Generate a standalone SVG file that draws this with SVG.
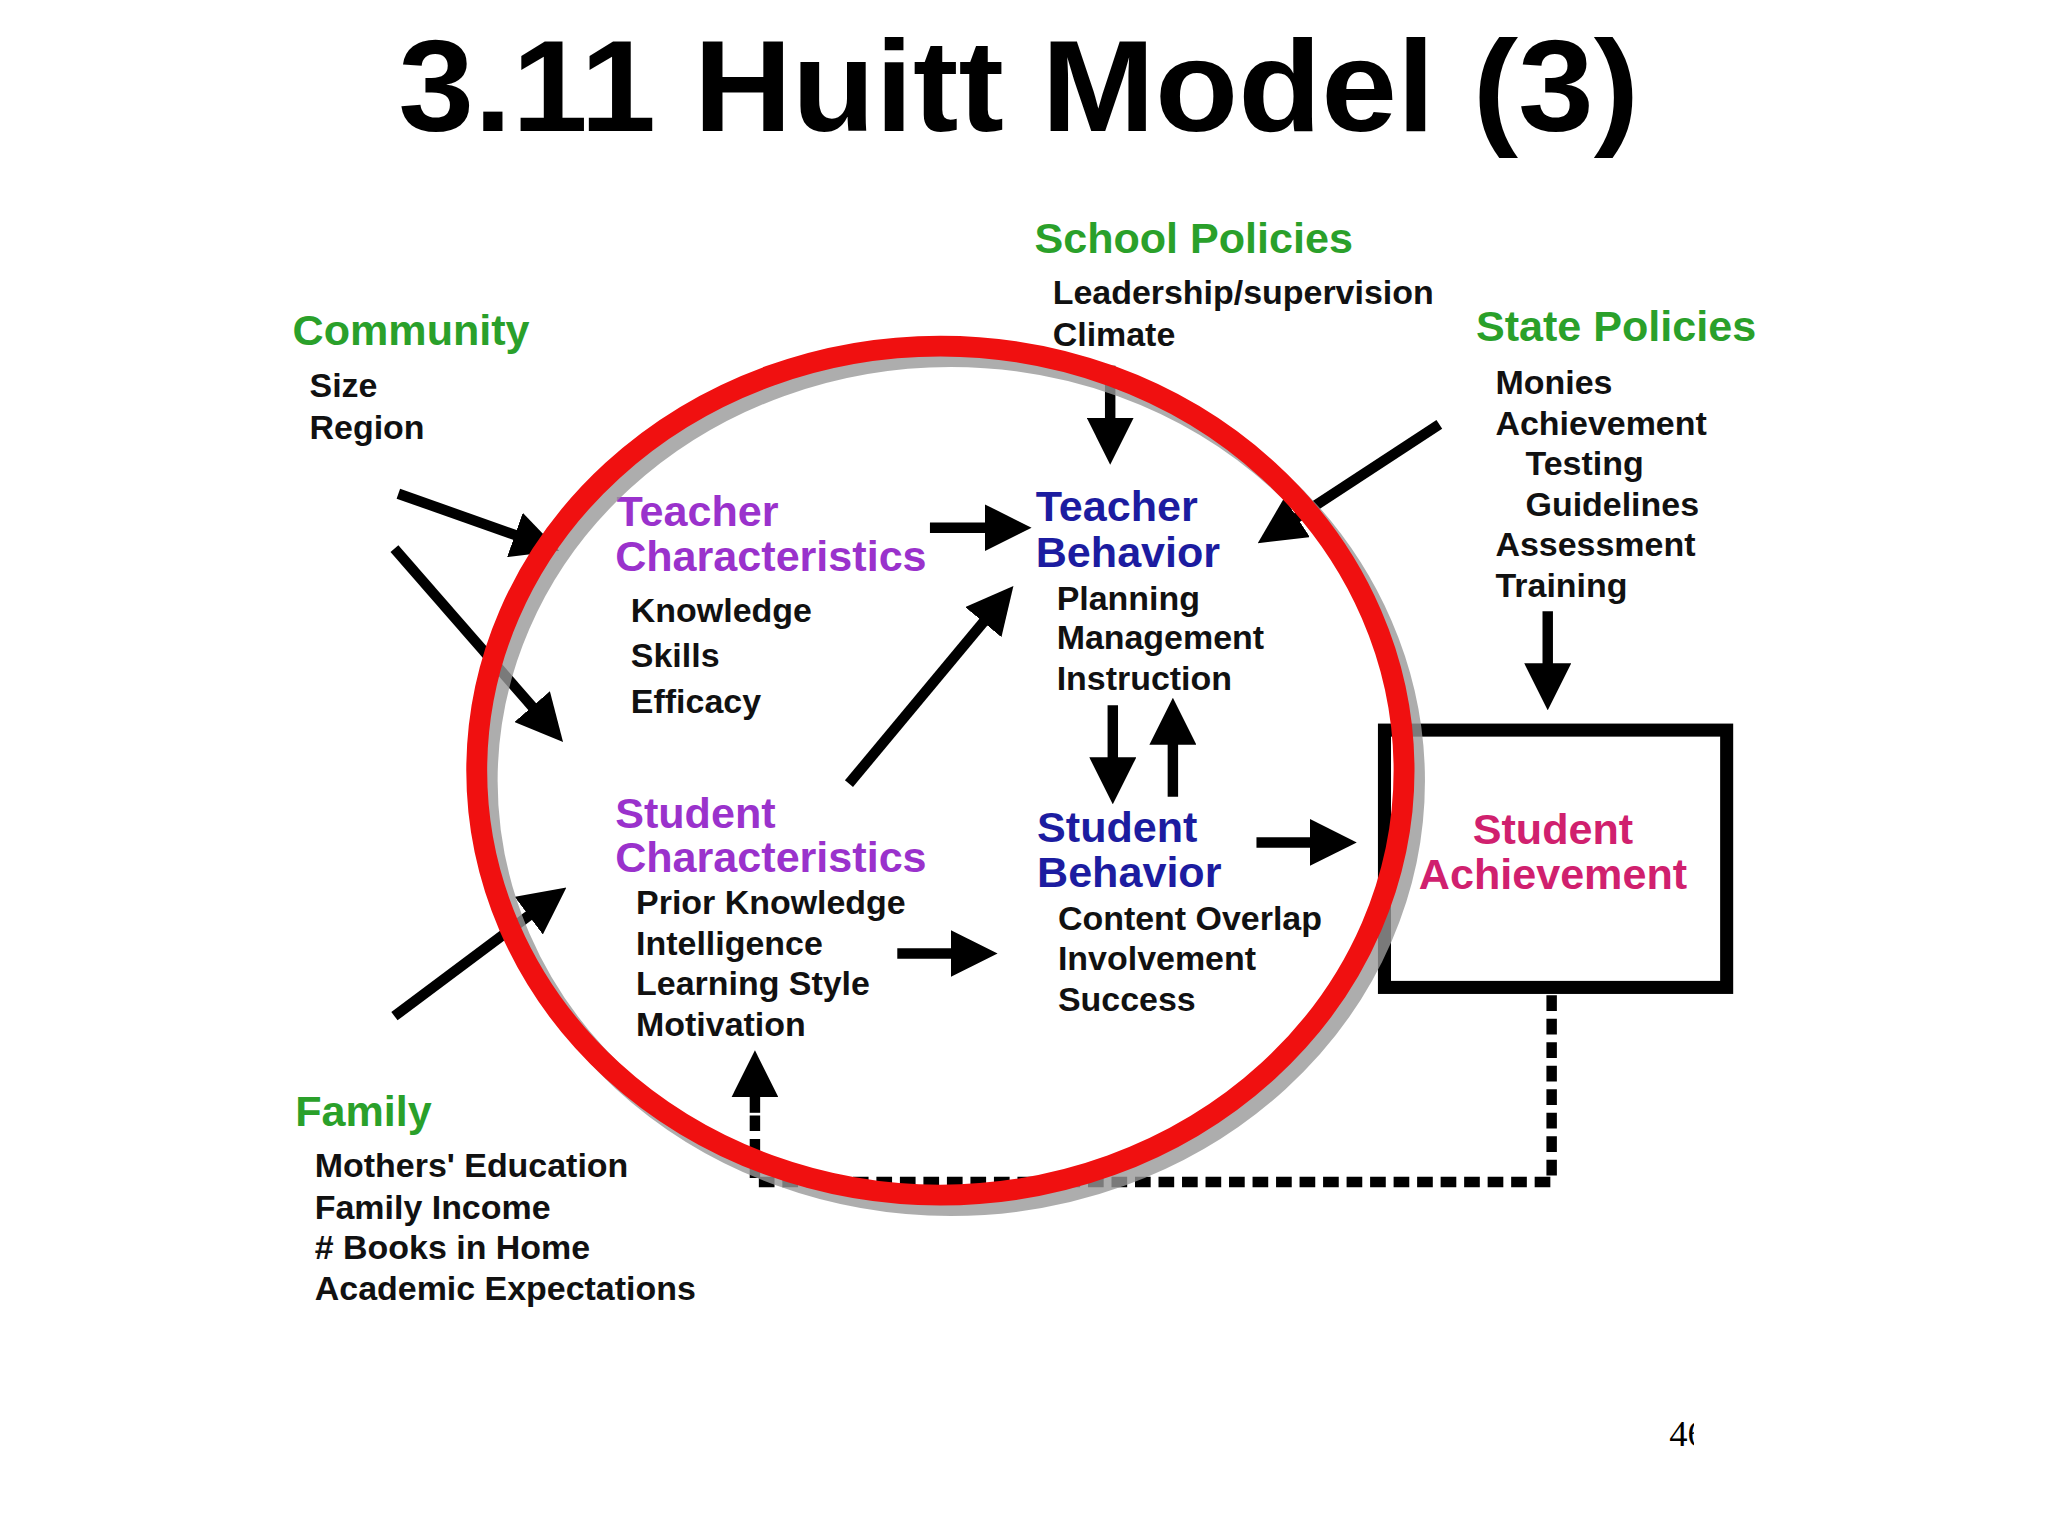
<svg xmlns="http://www.w3.org/2000/svg" width="2048" height="1536" viewBox="0 0 2048 1536">
<style>
text{font-family:"Liberation Sans","DejaVu Sans",sans-serif}
.t{font-size:26px;font-weight:bold;fill:#111}
.g{font-size:33px;font-weight:bold;fill:#2aa02a}
.p{font-size:33px;font-weight:bold;fill:#9a32cc}
.b{font-size:33px;font-weight:bold;fill:#1c1ca0}
.m{font-size:33px;font-weight:bold;fill:#d0206e}
.a{stroke:#000;stroke-width:8;fill:none;marker-end:url(#ah)}
</style>
<defs>
<marker id="ah" viewBox="0 0 10 10" refX="7" refY="5" markerWidth="4.5" markerHeight="4.5" orient="auto"><path d="M0,0L10,5L0,10z" fill="#000"/></marker>
<clipPath id="pc"><rect x="0" y="0" width="1297" height="1200"/></clipPath>
</defs>
<rect width="2048" height="1536" fill="#fff"/>
<g transform="scale(1.3061)">
<text x="305" y="100" textLength="950" lengthAdjust="spacingAndGlyphs" style="font-size:100px;font-weight:bold;fill:#000">3.11 Huitt Model (3)</text>
<g id="school"><text class="g" x="792" y="194">School Policies</text><text class="t" x="806" y="233">Leadership/supervision</text><text class="t" x="806" y="265">Climate</text></g>
<g id="community"><text class="g" x="224" y="264">Community</text><text class="t" x="237" y="304">Size</text><text class="t" x="237" y="336">Region</text></g>
<g id="state"><text class="g" x="1130" y="261">State Policies</text><text class="t" x="1145" y="302">Monies</text><text class="t" x="1145" y="333">Achievement</text><text class="t" x="1168" y="364">Testing</text><text class="t" x="1168" y="395">Guidelines</text><text class="t" x="1145" y="426">Assessment</text><text class="t" x="1145" y="457">Training</text></g>
<g id="family"><text class="g" x="226" y="862">Family</text><text class="t" x="241" y="901">Mothers' Education</text><text class="t" x="241" y="933">Family Income</text><text class="t" x="241" y="964"># Books in Home</text><text class="t" x="241" y="995">Academic Expectations</text></g>
<g id="tchar"><text class="p" x="472" y="403">Teacher</text><text class="p" x="471" y="437">Characteristics</text><text class="t" x="483" y="476">Knowledge</text><text class="t" x="483" y="511">Skills</text><text class="t" x="483" y="546">Efficacy</text></g>
<g id="tbeh"><text class="b" x="793" y="399">Teacher</text><text class="b" x="793" y="434">Behavior</text><text class="t" x="809" y="467">Planning</text><text class="t" x="809" y="497">Management</text><text class="t" x="809" y="528">Instruction</text></g>
<g id="schar"><text class="p" x="471" y="634">Student</text><text class="p" x="471" y="668">Characteristics</text><text class="t" x="487" y="700">Prior Knowledge</text><text class="t" x="487" y="731">Intelligence</text><text class="t" x="487" y="762">Learning Style</text><text class="t" x="487" y="793">Motivation</text></g>
<g id="sbeh"><text class="b" x="794" y="645">Student</text><text class="b" x="794" y="679">Behavior</text><text class="t" x="810" y="712">Content Overlap</text><text class="t" x="810" y="743">Involvement</text><text class="t" x="810" y="774">Success</text></g>
<g id="achieve"><rect x="1060" y="559" width="262" height="197" fill="#fff" stroke="#000" stroke-width="10"/><text class="m" x="1189" y="646" text-anchor="middle">Student</text><text class="m" x="1189" y="681" text-anchor="middle">Achievement</text></g>
<g id="connectors">
<line class="a" x1="850" y1="280" x2="850" y2="345"/>
<line class="a" x1="1102" y1="325" x2="972" y2="410"/>
<line class="a" x1="305" y1="378" x2="418" y2="418"/>
<line class="a" x1="302" y1="420" x2="424" y2="560"/>
<line class="a" x1="302" y1="778" x2="425" y2="686"/>
<line class="a" x1="650" y1="600" x2="769" y2="457"/>
<line class="a" x1="712" y1="404" x2="779" y2="404"/>
<line class="a" x1="852" y1="540" x2="852" y2="605"/>
<line class="a" x1="898" y1="610" x2="898" y2="545"/>
<line class="a" x1="962" y1="645" x2="1028" y2="645"/>
<line class="a" x1="687" y1="730" x2="753" y2="730"/>
<line class="a" x1="1185" y1="468" x2="1185" y2="533"/>
<polyline points="1188,762 1188,905 578,905 578,850" fill="none" stroke="#000" stroke-width="8" stroke-dasharray="12,6"/>
<line class="a" x1="578" y1="852" x2="578" y2="815"/>
</g>
<ellipse cx="728" cy="598" rx="355" ry="325" fill="none" stroke="#999" stroke-width="16" opacity="0.8"/>
<ellipse cx="720" cy="590" rx="355" ry="325" fill="none" stroke="#f01010" stroke-width="16"/>
<text x="1278" y="1107" clip-path="url(#pc)" style="font-family:'Liberation Serif',serif;font-size:28px;fill:#000">46</text>
</g>
</svg>
